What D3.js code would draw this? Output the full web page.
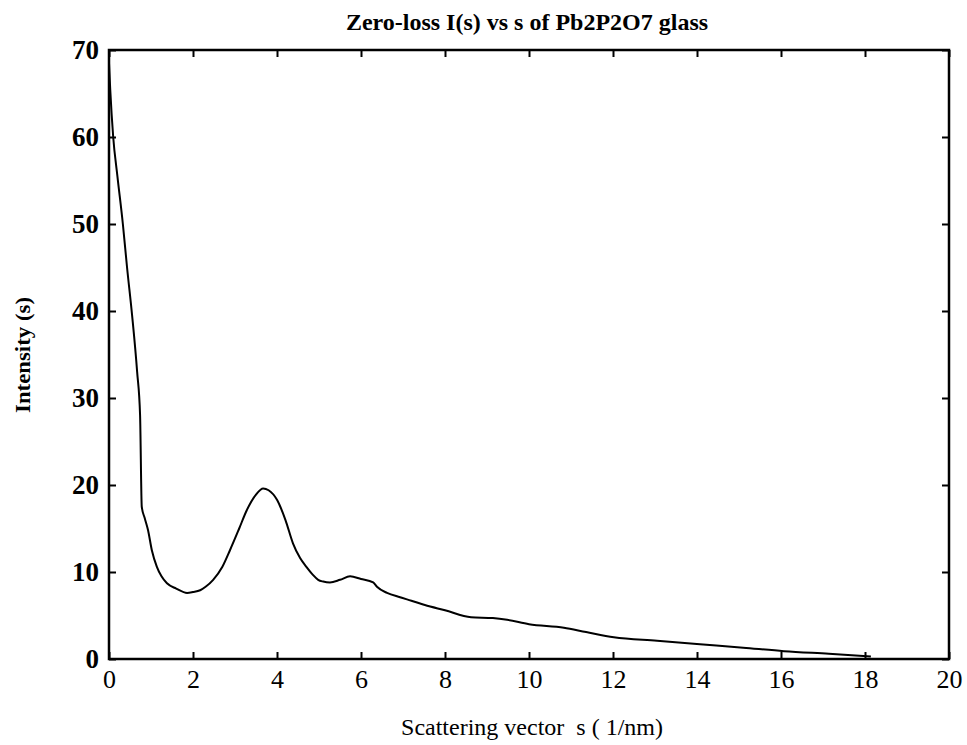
<!DOCTYPE html>
<html>
<head>
<meta charset="utf-8">
<script src="https://cdn.jsdelivr.net/npm/d3@7"></script>
<style>
  body { margin: 0; background: #fff; }
  svg { display: block; }
  .tick text { font-family: "Liberation Serif", "DejaVu Serif", serif; }
</style>
</head>
<body>
<svg id="chart"></svg>
<script>
let width = 967
let height = 745
let margin = { left: 109, right: 18, top: 50, bottom: 86 }

// values
let sVals = [0, 0.03, 0.1, 0.2, 0.33, 0.43, 0.55, 0.67, 0.74, 0.78, 0.85, 0.93, 1.02, 1.14, 1.25, 1.38, 1.6, 1.86, 2.0, 2.17, 2.3, 2.48, 2.7, 2.88, 3.1, 3.28, 3.5, 3.67, 3.8, 4.0, 4.2, 4.38, 4.55, 4.7, 4.85, 4.98, 5.1, 5.26, 5.5, 5.74, 6.0, 6.29, 6.38, 6.62, 6.93, 7.2, 7.52, 8.0, 8.62, 9.14, 9.48, 10.0, 10.83, 11.36, 12.02, 13.05, 14.07, 15.1, 16.07, 17.14, 18.14]
let intensity = [68.5, 65.4, 60, 55.5, 50, 45, 39.5, 33, 28, 17.5, 16.2, 14.8, 12.5, 10.6, 9.5, 8.7, 8.1, 7.6, 7.7, 7.9, 8.3, 9.1, 10.6, 12.5, 15.0, 17.1, 18.9, 19.6, 19.4, 18.3, 16.0, 13.3, 11.6, 10.6, 9.7, 9.1, 8.9, 8.8, 9.1, 9.5, 9.2, 8.8, 8.3, 7.6, 7.1, 6.7, 6.2, 5.6, 4.8, 4.7, 4.5, 4.0, 3.6, 3.1, 2.5, 2.1, 1.7, 1.3, 0.9, 0.6, 0.3]

let xTicks = [0, 2, 4, 6, 8, 10, 12, 14, 16, 18, 20]
let yTicks = [0, 10, 20, 30, 40, 50, 60, 70]

let svg = d3.select("#chart")
    .attr("width", width)
    .attr("height", height)

let x = d3.scaleLinear().domain([0, 20]).range([margin.left, width - margin.right])
let y = d3.scaleLinear().domain([0, 70]).range([height - margin.bottom, margin.top])

let data = sVals.map((s, i) => ({ s: s, v: intensity[i] }))

// frame + ticks pointing inward on all four sides
function styleAxis(g, size, weight) {
    g.select(".domain").remove()
    g.selectAll(".tick line").attr("stroke", "#000").attr("stroke-width", 2)
    g.selectAll(".tick text")
        .attr("fill", "#000")
        .attr("font-size", size)
        .attr("font-weight", weight)
}

svg.append("g")
    .attr("transform", `translate(0,${y(0)})`)
    .call(d3.axisBottom(x).tickValues(xTicks).tickSize(-7).tickPadding(11))
    .call(g => styleAxis(g, "26px", "normal"))

svg.append("g")
    .attr("transform", `translate(0,${y(70)})`)
    .call(d3.axisTop(x).tickValues(xTicks).tickSize(-7).tickFormat(""))
    .call(g => styleAxis(g, "0px", "normal"))

svg.append("g")
    .attr("transform", `translate(${x(0)},0)`)
    .call(d3.axisLeft(y).tickValues(yTicks).tickSize(-7).tickPadding(10))
    .call(g => styleAxis(g, "27px", "bold"))

svg.append("g")
    .attr("transform", `translate(${x(20)},0)`)
    .call(d3.axisRight(y).tickValues(yTicks).tickSize(-7).tickFormat(""))
    .call(g => styleAxis(g, "0px", "normal"))

svg.append("rect")
    .attr("x", x(0))
    .attr("y", y(70))
    .attr("width", x(20) - x(0))
    .attr("height", y(0) - y(70))
    .attr("fill", "none")
    .attr("stroke", "#000")
    .attr("stroke-width", 2.5)

let line = d3.line()
    .x(d => x(d.s))
    .y(d => y(d.v))
    .curve(d3.curveMonotoneX)

svg.append("path")
    .datum(data)
    .attr("d", line)
    .attr("fill", "none")
    .attr("stroke", "#000")
    .attr("stroke-width", 2)

svg.append("text")
    .attr("x", 527)
    .attr("y", 30)
    .attr("text-anchor", "middle")
    .attr("font-family", "Liberation Serif, serif")
    .attr("font-size", "24px")
    .attr("font-weight", "bold")
    .text("Zero-loss I(s) vs s of Pb2P2O7 glass")

svg.append("text")
    .attr("x", 532)
    .attr("y", 735)
    .attr("text-anchor", "middle")
    .attr("font-family", "Liberation Serif, serif")
    .attr("font-size", "24px")
    .style("white-space", "pre")
    .text("Scattering vector  s ( 1/nm)")

svg.append("text")
    .attr("transform", "translate(30,413) rotate(-90)")
    .attr("textLength", 116)
    .attr("lengthAdjust", "spacingAndGlyphs")
    .attr("font-family", "Liberation Serif, serif")
    .attr("font-size", "22px")
    .attr("font-weight", "bold")
    .text("Intensity (s)")
</script>
</body>
</html>
